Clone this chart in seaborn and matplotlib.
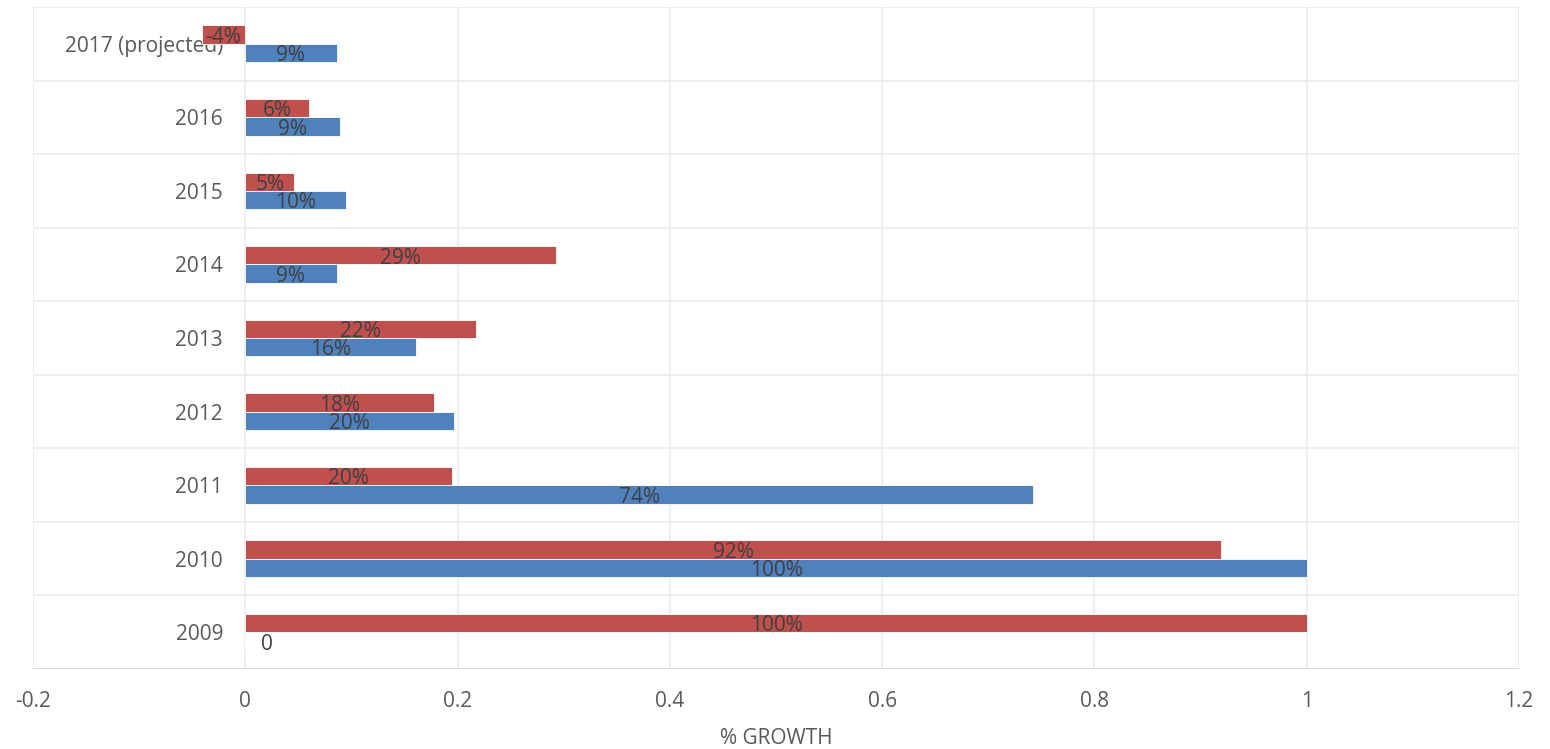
import matplotlib
matplotlib.use("Agg")
import matplotlib.pyplot as plt
import seaborn as sns
import pandas as pd
import numpy as np

categories = ["2017 (projected)", "2016", "2015", "2014", "2013", "2012", "2011", "2010", "2009"]
red_values = [-0.041, 0.060, 0.046, 0.293, 0.2175, 0.178, 0.195, 0.919, 1.00]
blue_values = [0.086, 0.089, 0.095, 0.086, 0.161, 0.197, 0.742, 1.00, 0.0]
series_names = ["Series 2", "Series 1"]
x_ticks = [-0.2, 0, 0.2, 0.4, 0.6, 0.8, 1.0, 1.2]
x_tick_labels = ["-0.2", "0", "0.2", "0.4", "0.6", "0.8", "1", "1.2"]

df = pd.DataFrame({
    "year": categories * 2,
    "value": red_values + blue_values,
    "series": [series_names[0]] * len(categories) + [series_names[1]] * len(categories),
})

sns.set_theme(style="white")
plt.rcParams["font.family"] = ["Open Sans", "DejaVu Sans"]

fig = plt.figure(figsize=(15.5, 7.49), dpi=100)
ax = fig.add_axes([33 / 1550, 1 - 669 / 749, (1519 - 33) / 1550, (669 - 7) / 749])

palette = {series_names[0]: "#C0504D", series_names[1]: "#4F81BD"}
sns.barplot(data=df, x="value", y="year", hue="series", order=categories,
            hue_order=series_names, palette=palette, orient="h", width=0.5,
            dodge=True, legend=False, ax=ax, edgecolor="white", linewidth=0.6,
            saturation=1)

ax.set_xlim(-0.2, 1.2)
ax.set_ylim(len(categories) - 0.5, -0.5)
ax.set_xticks(x_ticks)
ax.set_xticklabels(x_tick_labels)

# grid
grid_c = "#ececec"
for xv in x_ticks:
    ax.axvline(xv, color=grid_c, lw=1.2, zorder=0)
for yb in np.arange(-0.5, len(categories), 1.0):
    ax.axhline(yb, color=grid_c, lw=1.2, zorder=0)
ax.axhline(len(categories) - 0.5, color="#d9d9d9", lw=1.4, zorder=0.5)

for s in ["top", "right", "bottom"]:
    ax.spines[s].set_visible(False)
ax.spines["left"].set_position(("data", 0))
ax.spines["left"].set_visible(False)

ax.tick_params(axis="y", length=0, pad=16, labelsize=15, labelcolor="#595959")
ax.tick_params(axis="x", length=0, pad=16, labelsize=15, labelcolor="#595959")
ax.set_ylabel("")
ax.set_xlabel("% GROWTH", fontsize=15, color="#595959", labelpad=11)

# data labels
for cont, vals in zip(ax.containers, [red_values, blue_values]):
    for bar, v in zip(cont, vals):
        yc = bar.get_y() + bar.get_height() / 2
        if v == 0:
            ax.annotate("0", xy=(0, yc), xytext=(11, -2), textcoords="offset points",
                        ha="left", va="center", fontsize=15, color="#404040")
        else:
            ax.annotate(f"{round(v * 100):.0f}%", xy=(v / 2, yc), xytext=(0, -2),
                        textcoords="offset points", ha="center", va="center",
                        fontsize=15, color="#404040")

fig.savefig("out.png", dpi=100, facecolor="white")
